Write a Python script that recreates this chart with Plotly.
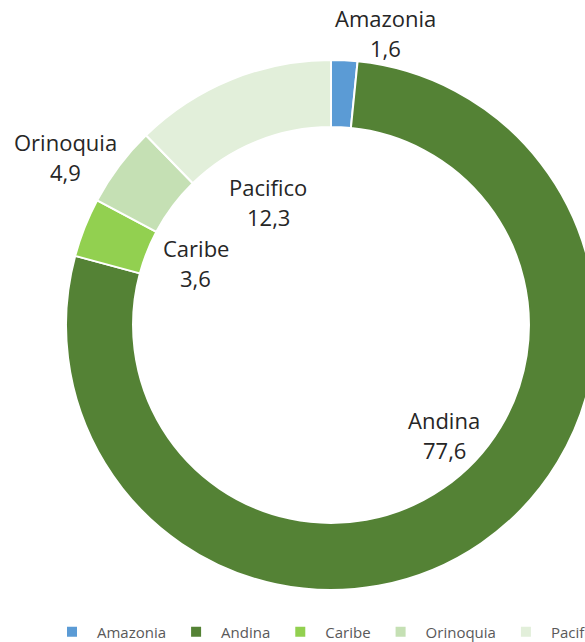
import plotly.graph_objects as go

regions = ["Amazonia", "Andina", "Caribe", "Orinoquia", "Pacifico"]
shares = [1.6, 77.6, 3.6, 4.9, 12.3]
colors = ["#5B9BD5", "#548235", "#92D050", "#C5E0B4", "#E2EFDA"]

W, H = 662, 642
# pixel centre of each region's name line (value line sits 30 px lower)
label_px = [385, 444, 196, 65, 268]
label_py = [18, 420, 248, 142, 187]
line_gap = 30

# ring bounding box in pixels
ring_left, ring_top, ring_size = 66, 60, 530

fig = go.Figure(go.Pie(
    labels=regions,
    values=shares,
    marker=dict(colors=colors, line=dict(color="white", width=2)),
    hole=0.747,
    sort=False,
    direction="clockwise",
    rotation=0,
    textinfo="none",
    hoverinfo="label+value",
    domain=dict(
        x=[ring_left / W, (ring_left + ring_size) / W],
        y=[(H - ring_top - ring_size) / H, (H - ring_top) / H],
    ),
))

annotations = []
for name, v, px, py in zip(regions, shares, label_px, label_py):
    val = f"{v:.1f}".replace(".", ",")
    for txt, yy in ((name, py), (val, py + line_gap)):
        annotations.append(dict(
            x=px / W, y=(H - yy) / H, xref="paper", yref="paper",
            text=txt, showarrow=False,
            xanchor="center", yanchor="middle",
            font=dict(family="Open Sans, sans-serif", size=22, color="#262626"),
        ))

fig.update_layout(
    width=W, height=H,
    margin=dict(l=0, r=0, t=0, b=0, autoexpand=False),
    paper_bgcolor="white",
    plot_bgcolor="white",
    annotations=annotations,
    showlegend=True,
    legend=dict(
        orientation="h",
        xref="paper", x=47 / W, xanchor="left",
        yref="paper", y=10 / H, yanchor="middle",
        font=dict(family="Open Sans, sans-serif", size=15, color="#595959"),
        itemwidth=40,
        bgcolor="rgba(0,0,0,0)",
    ),
)

fig.write_html(
    "out.html",
    post_script="document.body.style.margin='0';document.body.style.overflow='hidden';",
)
